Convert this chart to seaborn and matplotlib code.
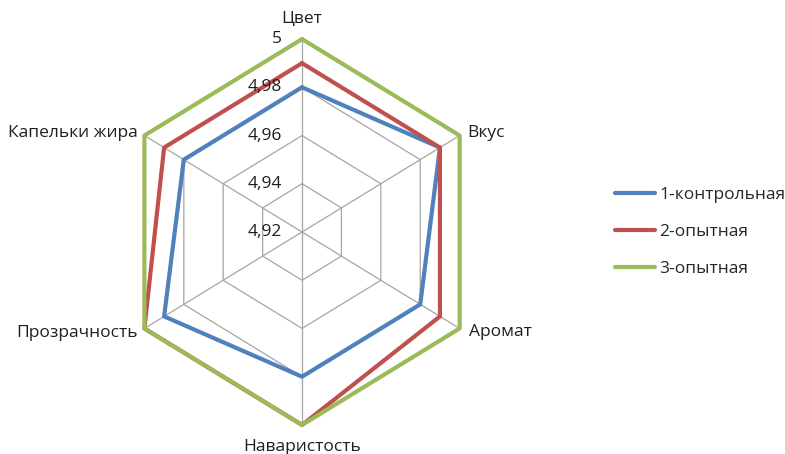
import numpy as np
import pandas as pd
import matplotlib
matplotlib.use("Agg")
import matplotlib.pyplot as plt
import seaborn as sns

# Sensory scores by attribute
categories = ["Цвет", "Вкус", "Аромат", "Наваристость", "Прозрачность", "Капельки жира"]
series_names = ["1-контрольная", "2-опытная", "3-опытная"]
control = [4.98, 4.99, 4.98, 4.98, 4.99, 4.98]
trial2 = [4.99, 4.99, 4.99, 5.00, 5.00, 4.99]
trial3 = [5.00, 5.00, 5.00, 5.00, 5.00, 5.00]
r_ticks = [4.92, 4.94, 4.96, 4.98, 5.00]
r_tick_labels = ["4,92", "4,94", "4,96", "4,98", "5"]

colors = ["#4F81BD", "#C0504D", "#9BBB59"]

sns.set_theme(style="white")
plt.rcParams["font.family"] = ["Open Sans", "DejaVu Sans"]

n = len(categories)
angles = np.linspace(0, 2 * np.pi, n, endpoint=False)

# closed polygons: repeat the first vertex at 2*pi
rows = []
for name, vals in zip(series_names, [control, trial2, trial3]):
    for i in range(n):
        rows.append({"series": name, "theta": angles[i], "value": vals[i]})
    rows.append({"series": name, "theta": 2 * np.pi, "value": vals[0]})
df = pd.DataFrame(rows)

fig = plt.figure(figsize=(7.85, 4.54), dpi=100)
ax = fig.add_axes([0.1529, 0.064, 0.4637, 0.850], projection="polar")
ax.set_theta_offset(np.pi / 2)
ax.set_theta_direction(-1)
ax.set_ylim(r_ticks[0], r_ticks[-1])
ax.set_aspect("auto")

# hexagonal grid and spokes
grid_kw = dict(color="#A6A6A6", lw=0.9, zorder=1, clip_on=False)
closed = np.append(angles, angles[0])
for r in r_ticks[1:]:
    ax.plot(closed, [r] * (n + 1), **grid_kw)
for a in angles:
    ax.plot([a, a], [r_ticks[0], r_ticks[-1]], **grid_kw)

ax.grid(False)
ax.spines["polar"].set_visible(False)
ax.set_xticks([])
ax.set_yticks([])

sns.lineplot(data=df, x="theta", y="value", hue="series", palette=colors,
             sort=False, estimator=None, lw=3.0, ax=ax, legend=True)
for line in ax.get_lines():
    line.set_clip_on(False)
for line in ax.get_lines()[-3:]:
    line.set_solid_joinstyle("miter")

# radial tick labels along the top spoke
for r, lab in zip(r_ticks, r_tick_labels):
    ax.annotate(lab, xy=(0, r), xytext=(-20, 0), textcoords="offset pixels",
                ha="right", va="center", fontsize=12.5, color="#1F1F1F", annotation_clip=False)

# category labels around the outer ring
offsets = [((0, 20), "center"), ((8, 3), "left"), ((9, -4), "left"),
           ((0, -22), "center"), ((-7, -5), "right"), ((-7, 3), "right")]
for a, lab, (off, ha) in zip(angles, categories, offsets):
    ax.annotate(lab, xy=(a, r_ticks[-1]), xytext=off, textcoords="offset pixels",
                ha=ha, va="center", fontsize=12.5, color="#1F1F1F", annotation_clip=False)

handles, labels = ax.get_legend_handles_labels()
ax.legend(handles, labels, loc="center left", bbox_to_anchor=(0.783, 0.489),
          bbox_transform=fig.transFigure, frameon=False, fontsize=12.5,
          handlelength=2.3, handletextpad=0.25, labelspacing=1.2,
          borderpad=0, borderaxespad=0)

fig.savefig("out.png", dpi=100)
